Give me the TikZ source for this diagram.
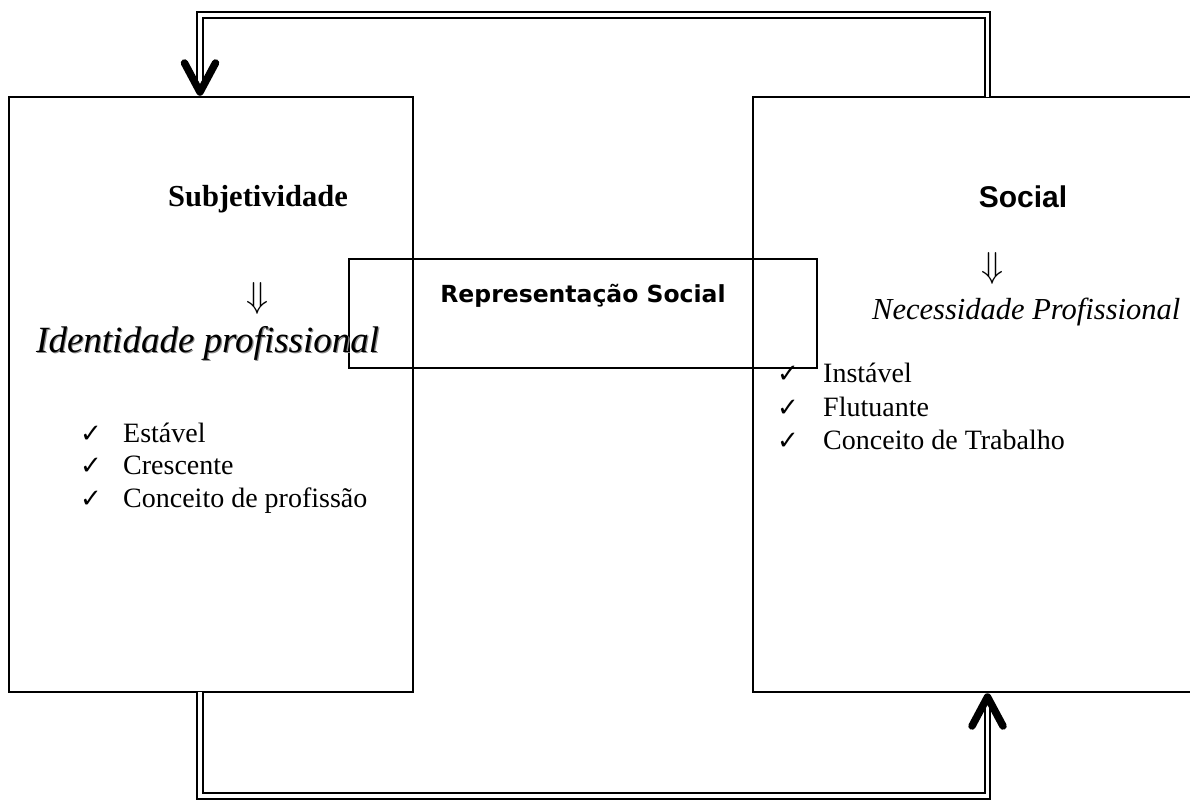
\documentclass[tikz,border=0pt]{standalone}
\usepackage{fontspec}
\usepackage{graphicx}
\setmainfont{Liberation Serif}
\setsansfont{Liberation Sans}
\newfontfamily\chkfont{DejaVu Sans}
\newfontfamily\repfont{DejaVu Sans}
\begin{document}
\begin{tikzpicture}[x=1pt,y=-1pt,
  box/.style={draw, line width=1.4pt, inner sep=0pt, outer sep=0pt},
  dbl/.style={draw, line width=2.2pt, double=white, double distance=3.2pt},
  chev/.style={draw, line width=7.5pt, line cap=round, line join=round},
  txt/.style={inner sep=0pt, anchor=base west},
  chk/.style={inner sep=0pt, anchor=base west, font=\chkfont\fontsize{26}{30}\selectfont}]
\useasboundingbox (0,0) rectangle (1190,801);
% boxes
\node[box, minimum width=404pt, minimum height=595pt] (L) at (211,394.5) {};
\node[box, minimum width=442pt, minimum height=595pt] (R) at (974,394.5) {};
\node[box, minimum width=468pt, minimum height=109pt] (M) at (583,313.5) {};
% connectors
\coordinate (tl) at (200,15);
\coordinate (tr) at (987.5,15);
\coordinate (bl) at (200,796);
\coordinate (br) at (987.5,796);
\coordinate (tipT) at (200,92);
\coordinate (tipB) at (987.5,697);
\draw[dbl] (R.north -| tr) -- (tr) -- (tl) -- (tipT);
\draw[chev] (184.5,63) -- (tipT) -- (215.5,63);
\draw[dbl] (L.south -| bl) -- (bl) -- (br) -- (tipB);
\draw[chev] (972,726) -- (tipB) -- (1003,726);
% left texts
\node[inner sep=0pt, anchor=base] (subj) at (258,206) {\fontsize{30.5}{36}\selectfont\bfseries Subjetividade};
\node[inner sep=0pt] (arrL) at (258,298) {\scalebox{1.45}{\fontsize{24}{28}\selectfont$\Downarrow$}};
\node[txt, text=black!45] (idsh) at (37.2,353.2) {\fontsize{37}{40}\selectfont\itshape Identidade profissional};
\node[txt] (id) at (36,352) {\fontsize{37}{40}\selectfont\itshape Identidade profissional};
\node[chk] (c1) at (80,442) {✓};
\node[chk] (c2) at (80,474) {✓};
\node[chk] (c3) at (80,507) {✓};
\node[txt] (l1) at (123,442) {\fontsize{28}{32}\selectfont Estável};
\node[txt] (l2) at (123,474) {\fontsize{28}{32}\selectfont Crescente};
\node[txt] (l3) at (123,507) {\fontsize{28}{32}\selectfont Conceito de profissão};
% middle
\node[inner sep=0pt, anchor=base] (rep) at (583,302) {\repfont\fontsize{23.5}{28}\selectfont\bfseries Representação Social};
% right texts
\node[inner sep=0pt, anchor=base] (soc) at (1023,207) {\sffamily\fontsize{30}{36}\selectfont\bfseries Social};
\node[inner sep=0pt] (arrR) at (993,268) {\scalebox{1.45}{\fontsize{24}{28}\selectfont$\Downarrow$}};
\node[txt] (nec) at (872,319) {\fontsize{30.5}{36}\selectfont\itshape Necessidade Profissional};
\node[chk] (d1) at (777,382) {✓};
\node[chk] (d2) at (777,416) {✓};
\node[chk] (d3) at (777,449) {✓};
\node[txt] (r1) at (823,382) {\fontsize{28}{32}\selectfont Instável};
\node[txt] (r2) at (823,416) {\fontsize{28}{32}\selectfont Flutuante};
\node[txt] (r3) at (823,449) {\fontsize{28}{32}\selectfont Conceito de Trabalho};
\end{tikzpicture}
\end{document}
